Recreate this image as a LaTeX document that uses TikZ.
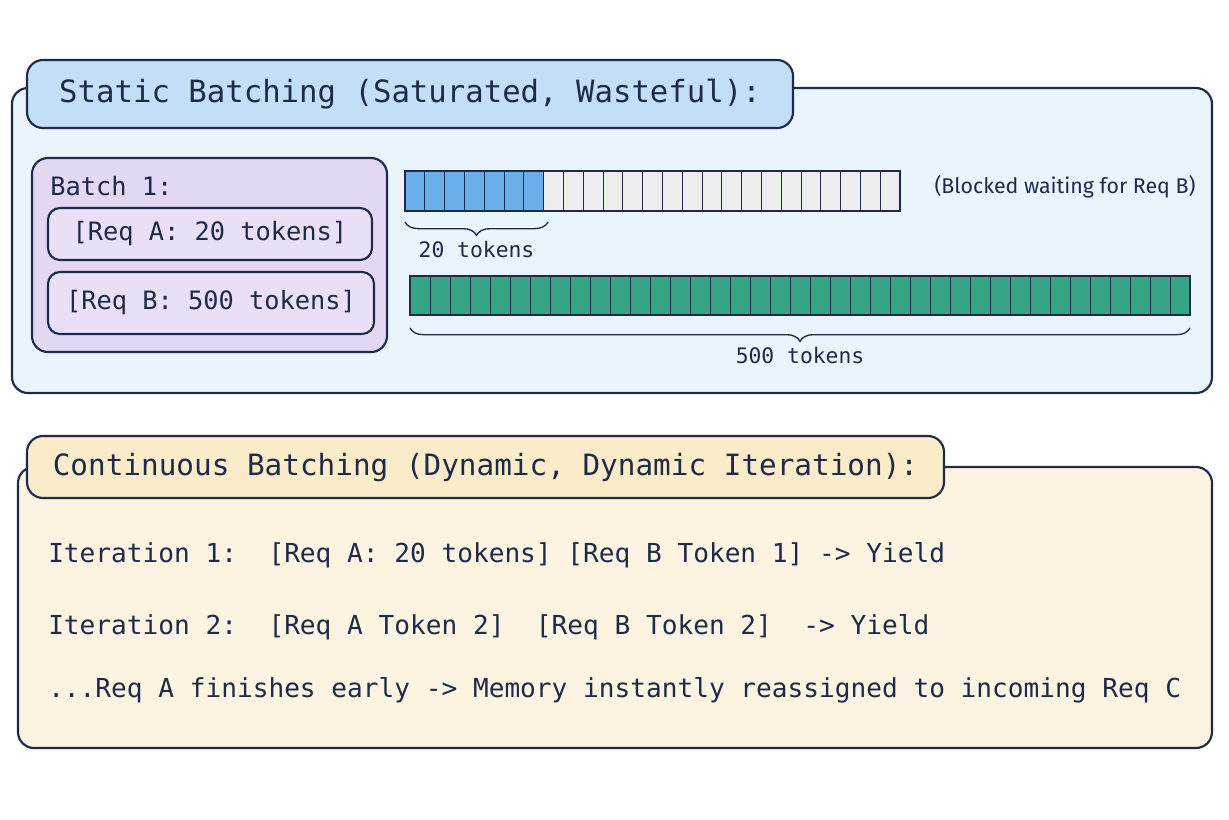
\documentclass[tikz,border=0pt]{standalone}
\usepackage{fontspec}
\setmainfont{DejaVu Sans}
\newfontfamily\handmono{DejaVu Sans Mono}
\newfontfamily\handnote{Fira Sans}
\usetikzlibrary{decorations.pathreplacing}
\definecolor{ink}{HTML}{1E2A4A}
\definecolor{skyback}{HTML}{E9F4FC}
\definecolor{skytitle}{HTML}{C3DFF7}
\definecolor{lavback}{HTML}{E3D8F4}
\definecolor{lavreq}{HTML}{E9E0F7}
\definecolor{sandback}{HTML}{FCF4E0}
\definecolor{sandtitle}{HTML}{FAEBC9}
\definecolor{reqblue}{HTML}{6AAEEA}
\definecolor{idlegray}{HTML}{EDEDED}
\definecolor{reqgreen}{HTML}{35A585}
\tikzset{
	panel/.style={draw=ink, line width=1.6pt, rounded corners=12pt},
	cell/.style={draw=ink, line width=0.6pt},
	brace/.style={draw=ink, line width=1pt, decorate, decoration={brace, amplitude=10pt, mirror}},
	lbl/.style={text=ink, font=\handmono\fontsize{19.6}{24}\selectfont, anchor=west, inner sep=0pt}
}
\begin{document}
\begin{tikzpicture}[x=0.75pt, y=-0.75pt]
	\useasboundingbox[fill=white] (0,0) rectangle (1229,819);

	% static batching
	\draw[panel, fill=skyback] (12,88) rectangle (1212,393);
	\node[panel, fill=skytitle, minimum width=574.5pt, minimum height=51pt, text=ink,
		font=\handmono\fontsize{23}{28}\selectfont] (static) at (410,94) {Static Batching (Saturated, Wasteful):};

	\draw[panel, fill=lavback] (32,158) rectangle (387,352);
	\node[lbl, font=\handmono\fontsize{19}{23}\selectfont] (batch) at (50,186) {Batch 1:};
	\node[panel, fill=lavreq, rounded corners=9pt, minimum width=243pt, minimum height=39pt, text=ink,
		font=\handmono\fontsize{19}{23}\selectfont] (reqa) at (210,234) {[Req A: 20 tokens]};
	\node[panel, fill=lavreq, rounded corners=9pt, minimum width=244.5pt, minimum height=46.5pt, text=ink,
		font=\handmono\fontsize{19}{23}\selectfont] (reqb) at (211,303) {[Req B: 500 tokens]};

	% bar of request A
	\foreach \i in {0,...,24} {
		\ifnum\i<7 \def\cellfill{reqblue}\else\def\cellfill{idlegray}\fi
		\draw[cell, fill=\cellfill] (405+\i*19.8,171) rectangle (405+\i*19.8+19.8,211);
	}
	\draw[ink, line width=1.2pt] (405,171) rectangle (900,211);
	\node[text=ink, font=\handnote\fontsize{16}{19}\selectfont] (blocked) at (1065,187) {(Blocked waiting for Req B)};
	\coordinate (abeg) at (405,222);
	\coordinate (aend) at (548,222);
	\draw[brace] (abeg) -- (aend) node[midway, below=11pt, text=ink, font=\handmono\fontsize{16}{19}\selectfont] (atok) {20 tokens};

	% bar of request B
	\foreach \i in {0,...,38}
		\draw[cell, fill=reqgreen] (410+\i*20,276) rectangle (410+\i*20+20,315);
	\draw[ink, line width=1.2pt] (410,276) rectangle (1190,315);
	\coordinate (bbeg) at (410,328);
	\coordinate (bend) at (1190,328);
	\draw[brace] (bbeg) -- (bend) node[midway, below=11pt, text=ink, font=\handmono\fontsize{16}{19}\selectfont] (btok) {500 tokens};

	% continuous batching
	\draw[panel, fill=sandback] (18,467) rectangle (1212,748);
	\node[panel, fill=sandtitle, minimum width=687.75pt, minimum height=46.5pt, text=ink,
		font=\handmono\fontsize{22}{27}\selectfont] (cont) at (485.5,467) {Continuous Batching (Dynamic, Dynamic Iteration):};

	\node[lbl] (iterone) at (48,555) {Iteration 1:\ \ [Req A: 20 tokens] [Req B Token 1] -> Yield};
	\node[lbl] (itertwo) at (48,627) {Iteration 2:\ \ [Req A Token 2]\ \ [Req B Token 2]\ \ -> Yield};
	\node[lbl] (finish) at (48,690) {...Req A finishes early -> Memory instantly reassigned to incoming Req C};
\end{tikzpicture}
\end{document}
